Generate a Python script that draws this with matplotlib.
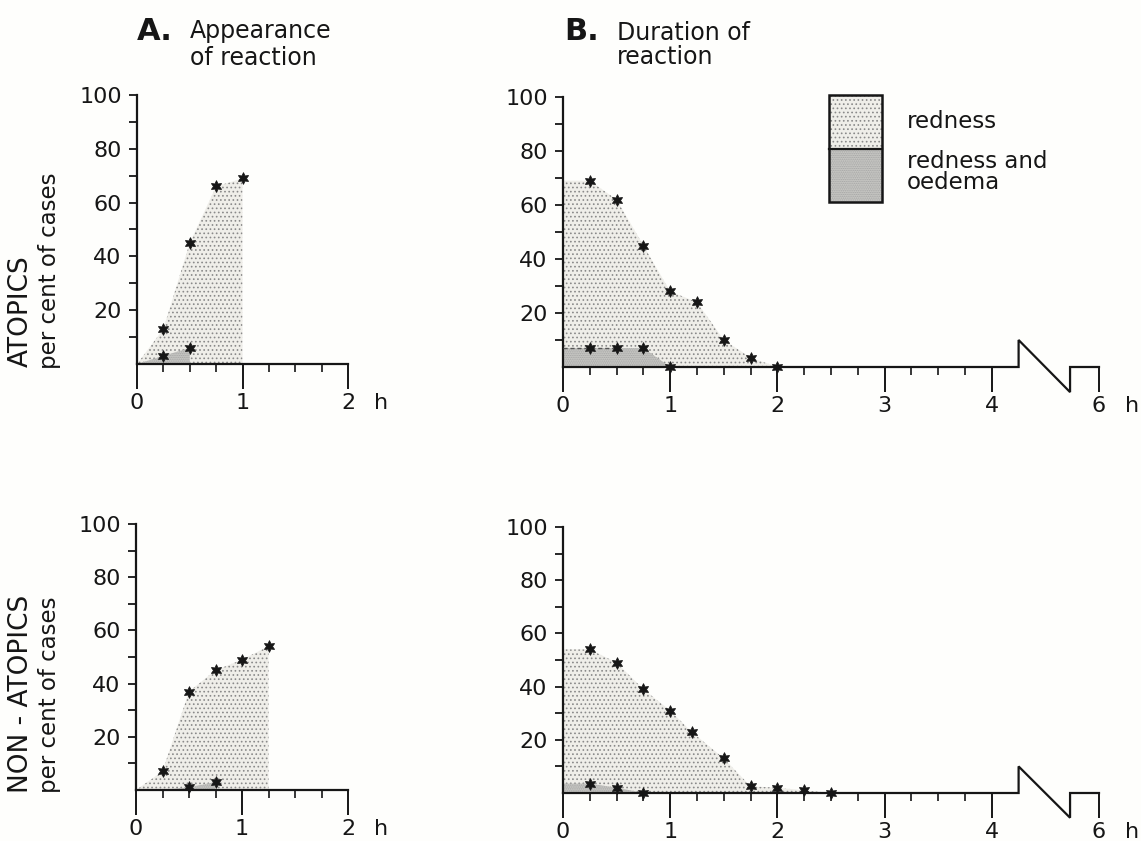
import matplotlib
matplotlib.use("Agg")
import matplotlib.pyplot as plt
from matplotlib.patches import Rectangle

plt.rcParams['font.family'] = ['DejaVu Sans']
plt.rcParams['hatch.linewidth'] = 0.7

# ---------------- data ----------------
# A. appearance of reaction -- atopics
a_atop_red_x = [0.25, 0.5, 0.75, 1.0]
a_atop_red_y = [13, 45, 66, 69]
a_atop_oed_x = [0.25, 0.5]
a_atop_oed_y = [3, 6]

# B. duration of reaction -- atopics
b_atop_red_x = [0.25, 0.5, 0.75, 1.0, 1.25, 1.5, 1.75, 2.0]
b_atop_red_y = [69, 62, 45, 28, 24, 10, 3.5, 0]
b_atop_oed_x = [0.25, 0.5, 0.75, 1.0]
b_atop_oed_y = [7, 7, 7, 0]

# A. appearance of reaction -- non-atopics
a_non_red_x = [0.25, 0.5, 0.75, 1.0, 1.25]
a_non_red_y = [7, 37, 45, 49, 54]
a_non_oed_x = [0.5, 0.75]
a_non_oed_y = [1, 3]

# B. duration of reaction -- non-atopics
b_non_red_x = [0.25, 0.5, 0.75, 1.0, 1.2, 1.5, 1.75, 2.0, 2.25, 2.5]
b_non_red_y = [54, 49, 39, 31, 23, 13, 2.5, 2, 1, 0]
b_non_oed_x = [0.25, 0.5, 0.75]
b_non_oed_y = [3.5, 2, 0]

y_ticks = [20, 40, 60, 80, 100]
y_minor = [10, 30, 50, 70, 90]
a_xticks = [0, 1, 2]
a_xlabels = ['0', '1', '2']
b_xticks = [0, 1, 2, 3, 4, 5]          # axis is broken: last position stands for 6 h
b_xlabels = ['0', '1', '2', '3', '4', '6']

# ---------------- style ----------------
W, H = 1141, 841
BG = '#fefefc'
INK = '#161616'
RED_FACE = '#efeee9'
RED_HATCH = '#8a8a8a'
OED_FACE = '#c9c9c5'
OED_HATCH = '#a2a2a2'
STAR = (6, 1, 0)
TICK_FS = 16

fig = plt.figure(figsize=(W / 100, H / 100), dpi=100, facecolor=BG)


def rect(x0, y0, x1, y1):
    return [x0 / W, 1 - y1 / H, (x1 - x0) / W, (y1 - y0) / H]


def setup(ax, xmax, xticks, xlabels, minor, broken=False):
    ax.set_facecolor('none')
    ax.set_xlim(0, xmax)
    ax.set_ylim(0, 100)
    for s in ['top', 'right']:
        ax.spines[s].set_visible(False)
    ax.spines['left'].set_linewidth(1.6)
    ax.spines['left'].set_color(INK)
    ax.spines['bottom'].set_linewidth(1.6)
    ax.spines['bottom'].set_color(INK)
    if broken:
        ax.spines['bottom'].set_visible(False)
    ax.set_yticks(y_ticks)
    ax.set_yticks(y_minor, minor=True)
    ax.tick_params(axis='y', which='both', direction='out', length=6, width=1.3,
                   colors=INK, labelsize=TICK_FS, pad=5)
    ax.set_xticks(xticks)
    ax.set_xticklabels(xlabels)
    ax.set_xticks(minor, minor=True)
    ax.tick_params(axis='x', which='major', direction='out', length=18, width=1.4,
                   colors=INK, labelsize=TICK_FS, pad=3)
    ax.tick_params(axis='x', which='minor', direction='out', length=6, width=1.2,
                   colors=INK)
    ax.annotate('h', xy=(xmax + 0.31, 0), xycoords='data',
                xytext=(0, -21), textcoords='offset points', ha='center', va='top',
                fontsize=TICK_FS, color=INK, annotation_clip=False)


def fill_app(ax, xs, ys, face, hatch, hcol, z):
    px = [xs[0] - 0.25] + list(xs) + [xs[-1]]
    py = [0] + list(ys) + [0]
    ax.fill(px, py, facecolor=face, hatch=hatch, edgecolor=hcol, linewidth=0, zorder=z)


def fill_dur(ax, xs, ys, face, hatch, hcol, z):
    px = [0, 0] + list(xs) + [xs[-1]]
    py = [0, ys[0]] + list(ys) + [0]
    ax.fill(px, py, facecolor=face, hatch=hatch, edgecolor=hcol, linewidth=0, zorder=z)


def stars(ax, xs, ys):
    ax.plot(xs, ys, linestyle='none', marker=STAR, markersize=8.5, color=INK,
            markeredgewidth=0.6, clip_on=False, zorder=5)


def broken_axis(ax):
    bx = [0, 4.25, 4.25, 4.73, 4.73, 5.0]
    by = [0, 0, 10, -9.3, 0, 0]
    ax.plot(bx, by, color=INK, linewidth=1.6, clip_on=False, zorder=4,
            solid_joinstyle='miter')


minor_a = [0.25, 0.5, 0.75, 1.25, 1.5, 1.75]
minor_b = [i * 0.25 for i in range(1, 16) if i % 4 != 0]

# top-left: A atopics
ax1 = fig.add_axes(rect(137, 95, 348, 364))
setup(ax1, 2, a_xticks, a_xlabels, minor_a)
fill_app(ax1, a_atop_red_x, a_atop_red_y, RED_FACE, '....', RED_HATCH, 1)
fill_app(ax1, a_atop_oed_x, a_atop_oed_y, OED_FACE, '.........', OED_HATCH, 2)
stars(ax1, a_atop_red_x, a_atop_red_y)
stars(ax1, a_atop_oed_x, a_atop_oed_y)

# top-right: B atopics
ax2 = fig.add_axes(rect(563, 97, 1099, 367))
setup(ax2, 5, b_xticks, b_xlabels, minor_b, broken=True)
fill_dur(ax2, b_atop_red_x, b_atop_red_y, RED_FACE, '....', RED_HATCH, 1)
fill_dur(ax2, b_atop_oed_x, b_atop_oed_y, OED_FACE, '.........', OED_HATCH, 2)
ax2.plot([0, 0.5], [7.2, 7.2], color='#555555', linewidth=1.0, linestyle=(0, (3, 2)), zorder=3)
broken_axis(ax2)
stars(ax2, b_atop_red_x, b_atop_red_y)
stars(ax2, b_atop_oed_x, b_atop_oed_y)

# bottom-left: A non-atopics
ax3 = fig.add_axes(rect(136, 524, 348, 790))
setup(ax3, 2, a_xticks, a_xlabels, minor_a)
fill_app(ax3, a_non_red_x, a_non_red_y, RED_FACE, '....', RED_HATCH, 1)
fill_app(ax3, a_non_oed_x, a_non_oed_y, OED_FACE, '.........', OED_HATCH, 2)
stars(ax3, a_non_red_x, a_non_red_y)
stars(ax3, a_non_oed_x, a_non_oed_y)

# bottom-right: B non-atopics
ax4 = fig.add_axes(rect(563, 527, 1099, 793))
setup(ax4, 5, b_xticks, b_xlabels, minor_b, broken=True)
fill_dur(ax4, b_non_red_x, b_non_red_y, RED_FACE, '....', RED_HATCH, 1)
fill_dur(ax4, b_non_oed_x, b_non_oed_y, OED_FACE, '.........', OED_HATCH, 2)
broken_axis(ax4)
stars(ax4, b_non_red_x, b_non_red_y)
stars(ax4, b_non_oed_x, b_non_oed_y)


def ftext(x, y, s, **kw):
    kw.setdefault('color', INK)
    fig.text(x / W, 1 - y / H, s, **kw)


# titles
ftext(137, 40, 'A.', fontsize=22, fontweight='bold', ha='left', va='baseline')
ftext(190, 38, 'Appearance', fontsize=17, ha='left', va='baseline')
ftext(190, 65, 'of reaction', fontsize=17, ha='left', va='baseline')
ftext(564, 40, 'B.', fontsize=22, fontweight='bold', ha='left', va='baseline')
ftext(617, 40, 'Duration of', fontsize=17, ha='left', va='baseline')
ftext(617, 64, 'reaction', fontsize=17, ha='left', va='baseline')

# row labels
ftext(21, 367, 'ATOPICS', fontsize=19, rotation=90, ha='center', va='bottom')
ftext(50, 369, 'per cent of cases', fontsize=16.5, rotation=90, ha='center', va='bottom')
ftext(21, 793, 'NON - ATOPICS', fontsize=19, rotation=90, ha='center', va='bottom')
ftext(50, 793, 'per cent of cases', fontsize=16.5, rotation=90, ha='center', va='bottom')

# legend
leg_x0, leg_x1 = 829, 882
fig.patches.append(Rectangle((leg_x0 / W, 1 - 149 / H), (leg_x1 - leg_x0) / W, 54 / H,
                             transform=fig.transFigure, facecolor=RED_FACE, hatch='....',
                             edgecolor=RED_HATCH, linewidth=0))
fig.patches.append(Rectangle((leg_x0 / W, 1 - 202 / H), (leg_x1 - leg_x0) / W, 53 / H,
                             transform=fig.transFigure, facecolor=OED_FACE, hatch='.........',
                             edgecolor=OED_HATCH, linewidth=0))
fig.patches.append(Rectangle((leg_x0 / W, 1 - 202 / H), (leg_x1 - leg_x0) / W, 107 / H,
                             transform=fig.transFigure, facecolor='none',
                             edgecolor=INK, linewidth=1.8))
fig.lines.append(plt.Line2D([leg_x0 / W, leg_x1 / W], [1 - 149 / H, 1 - 149 / H],
                            transform=fig.transFigure, color=INK, linewidth=1.6))
ftext(907, 122, 'redness', fontsize=16.5, ha='left', va='center')
ftext(907, 172, 'redness and\noedema', fontsize=16.5, ha='left', va='center',
      linespacing=0.85)

fig.savefig('out.png', dpi=100, facecolor=BG)
